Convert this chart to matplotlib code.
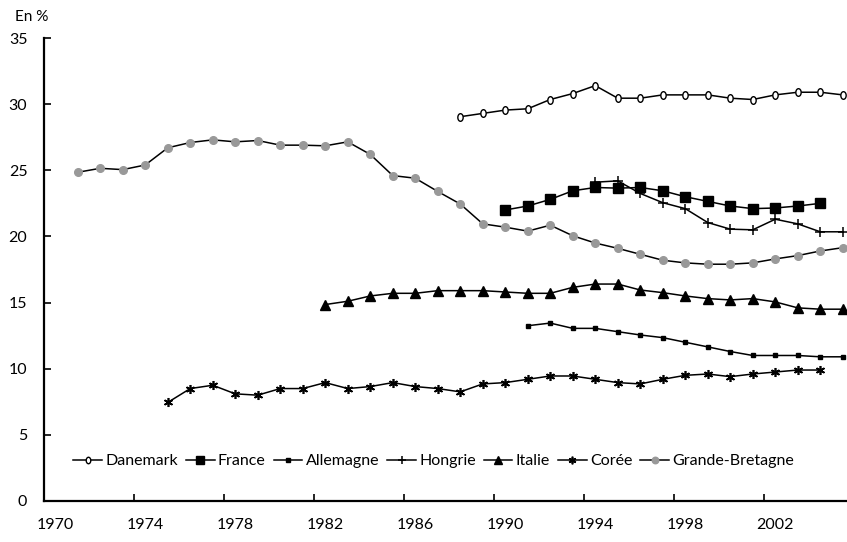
import numpy as np
import matplotlib
matplotlib.use('Agg')
import matplotlib.pyplot as plt
from matplotlib.path import Path

plt.rcParams['font.family'] = ['Lato', 'DejaVu Sans']

# values (En %)
danemark_years = list(range(1988, 2006))
danemark = [29.05, 29.3, 29.55, 29.65, 30.35, 30.8, 31.4, 30.45, 30.45, 30.7,
            30.7, 30.7, 30.45, 30.35, 30.7, 30.9, 30.9, 30.7]

france_years = list(range(1990, 2005))
france = [22.0, 22.3, 22.8, 23.45, 23.7, 23.65, 23.7, 23.45, 23.0, 22.65,
          22.3, 22.1, 22.15, 22.3, 22.5]

allemagne_years = list(range(1991, 2006))
allemagne = [13.25, 13.45, 13.05, 13.05, 12.8, 12.55, 12.35, 12.0, 11.65, 11.3,
             11.0, 11.0, 11.0, 10.9, 10.9]

hongrie_years = list(range(1994, 2006))
hongrie = [24.1, 24.2, 23.25, 22.55, 22.1, 21.05, 20.55, 20.5, 21.3, 20.95,
           20.35, 20.35]

italie_years = list(range(1982, 2006))
italie = [14.85, 15.1, 15.5, 15.7, 15.7, 15.9, 15.9, 15.9, 15.8, 15.7, 15.7,
          16.15, 16.4, 16.4, 15.95, 15.75, 15.5, 15.3, 15.2, 15.3, 15.05,
          14.6, 14.5, 14.5]

coree_years = list(range(1975, 2005))
coree = [7.45, 8.5, 8.75, 8.1, 8.0, 8.5, 8.5, 8.95, 8.5, 8.65, 8.95, 8.65,
         8.5, 8.25, 8.85, 8.95, 9.2, 9.45, 9.45, 9.2, 8.95, 8.85, 9.2, 9.5,
         9.6, 9.4, 9.6, 9.75, 9.9, 9.9]

gb_years = list(range(1971, 2006))
gb = [24.85, 25.15, 25.05, 25.4, 26.7, 27.1, 27.3, 27.15, 27.25, 26.9, 26.9,
      26.85, 27.15, 26.2, 24.6, 24.4, 23.4, 22.45, 20.95, 20.7, 20.4, 20.85,
      20.05, 19.5, 19.1, 18.65, 18.2, 18.0, 17.9, 17.9, 18.0, 18.3, 18.55,
      18.9, 19.15]

x_labels = list(range(1970, 2006, 4))

# narrow open ellipse for Danemark
circ = Path.unit_circle()
ellipse = Path(circ.vertices * np.array([0.7, 1.0]), circ.codes)

fig = plt.figure(figsize=(8.47, 5.42), dpi=100)
ax = fig.add_axes([44 / 847, 41 / 542, 810 / 847, 463 / 542])

lw = 1.1
ax.plot(danemark_years, danemark, color='black', lw=lw, marker=ellipse,
        ms=5.5, mfc='white', mec='black', mew=1.0, label='Danemark')
ax.plot(france_years, france, color='black', lw=lw, marker='s', ms=7,
        mfc='black', mec='black', label='France')
ax.plot(allemagne_years, allemagne, color='black', lw=lw, marker='s', ms=3,
        mfc='black', mec='black', label='Allemagne')
ax.plot(hongrie_years, hongrie, color='black', lw=lw, marker='+', ms=7,
        mew=1.1, label='Hongrie')
ax.plot(italie_years, italie, color='black', lw=lw, marker='^', ms=6.5,
        mfc='black', mec='black', label='Italie')
ax.plot(coree_years, coree, color='black', lw=lw, marker=(6, 2, 0), ms=6.5,
        mew=1.2, mec='black', label='Corée')
ax.plot(gb_years, gb, color='black', lw=lw, marker='o', ms=5.5,
        mfc='#999999', mec='#999999', label='Grande-Bretagne')

ax.set_xlim(1969.5, 2005.5)
ax.set_ylim(0, 35)
ax.set_yticks(range(0, 36, 5))

ax.set_xticks(x_labels)
ax.set_xticks(np.arange(1973.5, 2005, 4), minor=True)
ax.tick_params(axis='x', which='major', length=0, pad=12, labelsize=11.5)
ax.tick_params(axis='x', which='minor', direction='in', length=5, width=1.2)
ax.tick_params(axis='y', direction='in', length=5, width=1.2, pad=12,
               labelsize=11.5)

for s in ['top', 'right']:
    ax.spines[s].set_visible(False)
for s in ['left', 'bottom']:
    ax.spines[s].set_linewidth(1.6)

fig.text(15 / 847, 1 - 17 / 542, 'En %', fontsize=11, va='center', ha='left')

ax.legend(loc='center', bbox_to_anchor=(0.512, 0.149),
          bbox_transform=fig.transFigure, ncol=7, frameon=False,
          fontsize=11.5, handlelength=1.8, handletextpad=0.2,
          columnspacing=0.5, markerscale=0.85)

fig.savefig('out.png', dpi=100)
